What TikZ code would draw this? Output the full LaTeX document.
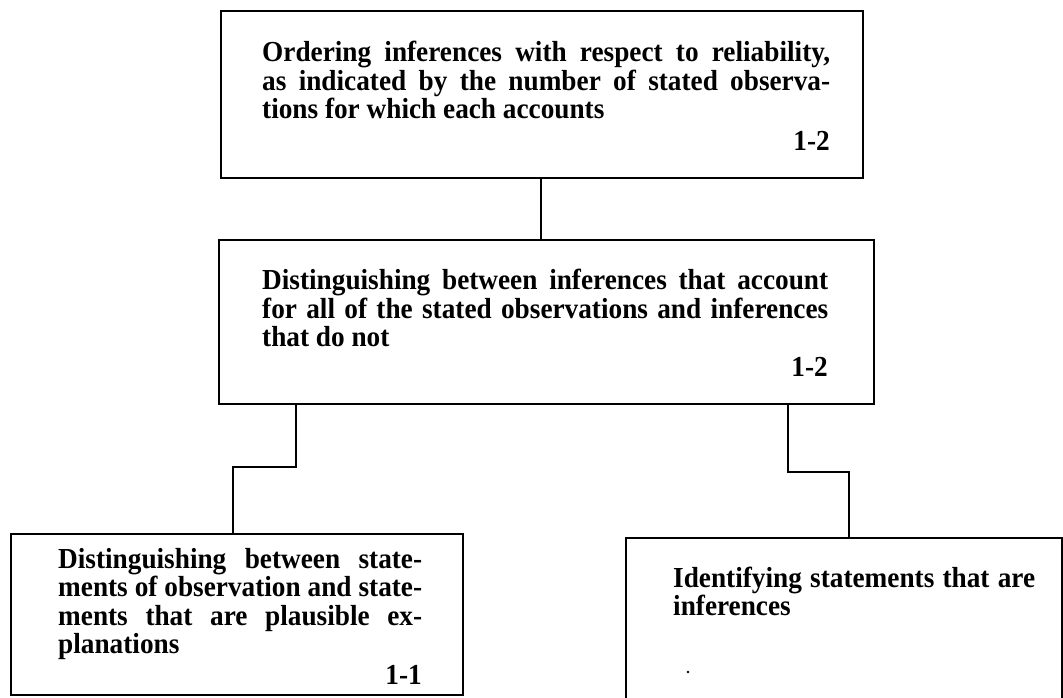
\documentclass[tikz,border=0pt]{standalone}
\usepackage{fontspec}
\setmainfont{Liberation Serif}
\newfontfamily\scanfont{Liberation Serif}[BoldFeatures={FakeStretch=0.94}]
\newcommand{\jl}[2]{\hbox to #1{\spaceskip=0.25em plus 1em minus 0.1em #2}}
\newcommand{\plainline}[1]{\hbox{#1}}
\begin{document}
\begin{tikzpicture}[x=1pt,y=1pt,
  box/.style={draw, line width=2pt, rectangle, inner sep=0pt},
  conn/.style={line width=2pt},
  txt/.style={anchor=base west, inner sep=0pt, font=\scanfont\bfseries\fontsize{29}{28.5}\selectfont},
  num/.style={anchor=base east, inner sep=0pt, font=\scanfont\bfseries\fontsize{29}{28.5}\selectfont}]
\useasboundingbox (0,0) rectangle (1063,697);
% boxes
\node[box, minimum width=642pt, minimum height=167pt, anchor=north west] (b1) at (220,687) {};
\node[box, minimum width=655pt, minimum height=164pt, anchor=north west] (b2) at (218,458) {};
\node[box, minimum width=452pt, minimum height=161pt, anchor=north west] (b3) at (10,164) {};
\node[box, minimum width=436pt, minimum height=175pt, anchor=north west] (b4) at (625,160) {};
% texts
\node[txt] (t1) at (262,635) {\vtop{\jl{568pt}{Ordering inferences with respect to reliability,}
  \jl{568pt}{as indicated by the number of stated observa-}
  \plainline{tions for which each accounts}}};
\node[num] (n1) at (830,546) {1-2};
\node[txt] (t2) at (262,407) {\vtop{\jl{566pt}{Distinguishing between inferences that account}
  \jl{566pt}{for all of the stated observations and inferences}
  \plainline{that do not}}};
\node[num] (n2) at (828,320) {1-2};
\node[txt] (t3) at (58,129) {\vtop{\jl{364pt}{Distinguishing between state-}
  \jl{364pt}{ments of observation and state-}
  \jl{364pt}{ments that are plausible ex-}
  \plainline{planations}}};
\node[num] (n3) at (422,13) {1-1};
\node[txt] (t4) at (673,110) {\vtop{\jl{362pt}{Identifying statements that are}
  \plainline{inferences}}};
\fill (688,25) circle (1.3pt);
% connectors
\draw[conn] (b1.south -| 541,0) -- (b2.north -| 541,0);
\coordinate (l1) at (296,230);
\coordinate (l2) at (233,230);
\draw[conn] (b2.south -| l1) -- (l1) -- (l2) -- (b3.north -| l2);
\coordinate (r1) at (788,225);
\coordinate (r2) at (849,225);
\draw[conn] (b2.south -| r1) -- (r1) -- (r2) -- (b4.north -| r2);
\end{tikzpicture}
\end{document}
